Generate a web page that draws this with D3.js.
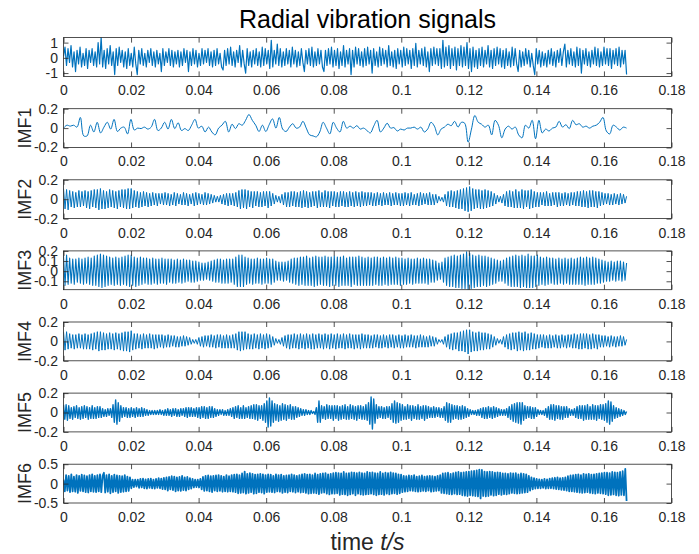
<!DOCTYPE html>
<html>
<head>
<meta charset="utf-8">
<script src="https://cdn.jsdelivr.net/npm/d3@7"></script>
<style>
  html, body { margin: 0; padding: 0; background: #fff; }
  svg { display: block; font-family: "Liberation Sans", Arial, Helvetica, sans-serif; }
</style>
</head>
<body>
<svg id="chart" width="699" height="554"></svg>
<script>
// Record length in seconds; samples of every series are evenly spaced over it.
const duration = 0.1667;

const xTicks = [0, 0.02, 0.04, 0.06, 0.08, 0.1, 0.12, 0.14, 0.16, 0.18];
const yTicksRaw = [-1, 0, 1];
const yTicksImf = [-0.2, 0, 0.2];
const yTicksImf3 = [-0.1, 0, 0.1, 0.2];
const yTicksImf6 = [-0.5, 0, 0.5];

// Measured radial vibration signal
const rawSignal = [
  0.1,0.7,-0.5,0.6,-0.3,0.8,-0.6,0.4,-0.9,0.5,-0.4,0.7,-0.6,0.3,-0.5,0.6,-0.7,0.5,-0.3,0.6,-0.5,0.4,-0.6,1.0,-0.4,
  1.35,-0.6,0.5,-0.7,0.6,-0.4,0.8,-0.5,0.4,-1.1,0.6,-0.5,0.7,-0.3,0.5,-0.6,0.4,-0.7,0.6,-0.5,0.3,-0.6,0.7,-0.4,-1.1,
  0.5,-0.4,0.6,-0.5,0.3,-0.6,0.5,-0.3,0.6,-0.5,0.4,-0.6,0.5,-0.4,0.3,-0.9,0.6,-0.5,0.4,-0.3,0.6,-0.5,0.5,-0.6,0.4,
  -0.4,0.5,-0.6,0.4,-0.5,0.6,-0.3,0.5,-0.9,0.4,-0.5,0.6,-0.4,0.5,-0.6,0.3,-0.5,0.6,-0.4,0.5,-0.3,0.6,-0.5,0.4,-0.6,
  0.5,-0.5,0.6,-0.4,0.3,-0.6,-0.8,0.5,-0.5,0.6,-0.4,0.7,-0.5,0.4,-0.6,0.5,-0.3,0.8,-0.6,0.5,-0.4,-1.0,0.6,-0.5,0.4,
  -0.6,0.5,-0.4,0.6,-0.5,0.4,-0.6,0.7,-0.5,0.6,-0.4,0.5,-0.7,1.15,-0.6,0.5,-0.4,0.9,-0.5,0.6,-0.6,0.4,-0.5,0.6,-0.4,
  0.5,-0.6,0.7,-0.4,0.5,-0.6,0.4,-0.5,0.6,-0.3,-0.9,0.5,-0.4,0.6,-0.5,0.7,-0.6,0.4,-0.5,0.6,-0.4,0.5,-0.6,-0.9,0.5,
  -0.5,0.6,-0.4,0.7,-0.6,0.5,-0.5,0.6,-0.7,0.4,-0.5,0.8,-0.6,0.5,-0.4,0.6,-1.1,0.5,-0.6,0.7,-0.4,0.6,-0.5,0.4,-0.6,
  0.6,-0.5,0.7,-0.4,0.5,-1.0,0.6,-0.5,0.4,-0.6,0.7,-0.5,0.6,-0.4,0.5,-0.6,0.8,-0.5,0.4,-0.6,0.5,-0.7,0.6,-0.4,0.5,
  -0.6,0.7,-0.5,0.6,-0.4,0.5,-0.7,0.6,-0.5,0.95,-0.6,0.5,-0.4,0.6,-0.5,0.7,-0.6,0.4,-0.9,0.6,-0.5,0.7,-0.4,0.6,-0.5,
  0.6,-0.7,1.15,-0.6,0.7,-0.5,0.8,-0.7,0.6,-0.5,0.7,-0.8,0.6,-0.5,0.8,-0.6,0.7,-0.5,1.0,-0.7,0.6,-0.9,0.7,-0.6,0.5,
  -0.7,0.6,-0.5,0.7,-0.6,0.5,-0.4,0.8,-0.6,0.5,-0.7,0.6,-0.5,0.7,-0.4,0.6,-0.6,0.5,-0.7,0.6,-0.5,0.4,-0.6,0.7,-0.5,
  0.6,-0.4,-0.9,0.5,-0.6,0.4,-0.5,0.6,-0.4,0.5,-0.6,0.3,-0.5,-1.1,0.6,-0.4,0.5,-0.6,0.4,-0.5,0.3,-0.6,0.5,-0.4,0.6,
  -0.5,0.4,-0.6,0.5,-0.3,0.6,-0.5,0.4,0.9,-0.6,0.5,-0.4,0.6,-0.5,0.4,-0.6,0.7,-0.5,0.6,-1.0,0.5,-0.4,0.6,-0.5,0.4,
  -0.6,0.5,-0.4,0.7,-0.5,0.6,-0.6,0.4,-0.5,0.7,-0.4,0.6,-0.5,0.6,-0.7,0.5,-0.4,0.6,-0.5,0.7,-0.6,0.5,-0.4,0.5,-1.1
];

// Intrinsic mode functions
const imf1 = [
  0.00,0.03,0.02,0.03,0.01,0.11,-0.08,-0.08,0.03,-0.04,
  0.06,-0.05,0.01,0.06,-0.01,0.09,-0.035,0.0,0.01,-0.06,
  0.09,-0.02,0.0,-0.005,0.01,-0.01,0.01,0.09,-0.025,0.0,
  0.06,-0.01,0.09,-0.005,0.055,-0.025,-0.005,-0.025,0.03,0.09,
  0.0,0.02,-0.04,0.01,-0.04,-0.07,0.0,0.03,0.07,-0.04,
  0.04,-0.005,0.045,0.03,0.08,0.14,0.08,0.03,-0.035,0.03,
  -0.035,0.035,0.095,0.0,0.11,-0.01,-0.035,0.01,0.045,0.0,
  0.01,0.07,0.0,-0.07,-0.08,-0.09,-0.04,0.06,0.0,-0.06,
  0.06,0.0,-0.04,0.07,0.0,0.02,0.0,0.025,-0.01,0.0,
  -0.025,-0.05,0.02,0.08,-0.04,0.0,0.05,0.0,0.005,-0.03,
  -0.01,-0.02,0.0,0.0,0.01,-0.01,0.01,-0.04,-0.01,0.06,
  0.02,-0.07,-0.01,0.01,0.04,0.025,0.07,0.01,0.06,0.05,
  -0.145,-0.01,0.13,0.06,0.04,0.01,0.03,-0.07,0.08,0.03,
  -0.1,-0.01,0.02,-0.01,0.01,-0.07,-0.1,0.03,0.0,0.08,
  -0.11,0.08,-0.05,-0.01,-0.03,0.0,0.01,0.07,0.01,0.035,
  -0.005,0.08,0.035,0.045,0.01,0.02,0.0,0.02,0.03,0.06,
  0.11,-0.03,-0.06,0.03,0.01,-0.02,0.01,0.0
];

const imf2 = [
  0.11,-0.1,0.1,-0.11,0.09,-0.08,0.08,-0.09,0.07,-0.08,0.09,-0.08,0.08,-0.07,0.09,-0.09,0.08,-0.1,0.09,-0.08,0.1,-0.09,
  0.1,-0.11,0.11,-0.1,0.09,-0.1,0.08,-0.09,0.1,-0.08,0.09,-0.09,0.08,-0.1,0.09,-0.08,0.1,-0.09,0.1,-0.1,0.11,-0.1,
  0.11,-0.09,0.09,-0.08,0.08,-0.09,0.07,-0.08,0.08,-0.07,0.07,-0.08,0.06,-0.07,0.07,-0.06,0.06,-0.07,0.06,-0.05,0.06,-0.06,
  0.07,-0.06,0.06,-0.07,0.05,-0.06,0.07,-0.07,0.06,-0.05,0.05,-0.06,0.07,-0.06,0.06,-0.07,0.05,-0.05,0.06,-0.07,0.07,-0.06,
  0.06,-0.05,0.05,-0.06,0.07,-0.06,0.06,-0.05,0.05,-0.04,0.04,-0.03,0.03,-0.03,0.04,-0.05,0.05,-0.06,0.06,-0.07,0.06,-0.06,
  0.06,-0.07,0.07,-0.08,0.09,-0.1,0.1,-0.09,0.1,-0.1,0.09,-0.08,0.08,-0.09,0.08,-0.07,0.08,-0.08,0.07,-0.08,0.08,-0.07,
  0.08,-0.09,0.08,-0.07,0.06,-0.05,0.04,-0.03,0.03,-0.04,0.05,-0.06,0.07,-0.08,0.07,-0.08,0.08,-0.07,0.08,-0.08,0.07,-0.08,
  0.08,-0.09,0.09,-0.08,0.08,-0.09,0.07,-0.08,0.08,-0.07,0.08,-0.09,0.09,-0.08,0.07,-0.08,0.09,-0.08,0.08,-0.09,0.08,-0.07,
  0.08,-0.08,0.07,-0.08,0.08,-0.07,0.08,-0.08,0.07,-0.08,0.08,-0.07,0.07,-0.08,0.08,-0.07,0.07,-0.08,0.08,-0.07,0.07,-0.07,
  0.07,-0.06,0.07,-0.07,0.06,-0.07,0.07,-0.06,0.06,-0.07,0.07,-0.06,0.06,-0.06,0.07,-0.07,0.06,-0.06,0.07,-0.06,0.06,-0.07,
  0.06,-0.07,0.07,-0.06,0.06,-0.07,0.07,-0.06,0.05,-0.06,0.06,-0.07,0.07,-0.06,0.06,-0.05,0.06,-0.06,0.07,-0.06,0.05,-0.06,
  0.05,-0.04,0.03,-0.02,0.02,-0.03,0.05,-0.07,0.08,-0.08,0.09,-0.08,0.08,-0.09,0.09,-0.1,0.1,-0.1,0.11,-0.12,0.12,-0.13,
  0.13,-0.12,0.11,-0.1,0.1,-0.09,0.1,-0.1,0.09,-0.1,0.1,-0.09,0.09,-0.08,0.08,-0.07,0.06,-0.05,0.04,-0.03,0.03,-0.04,
  0.05,-0.07,0.08,-0.08,0.09,-0.08,0.08,-0.09,0.1,-0.09,0.08,-0.09,0.1,-0.1,0.09,-0.08,0.09,-0.1,0.1,-0.09,0.08,-0.08,
  0.07,-0.08,0.07,-0.06,0.07,-0.07,0.08,-0.07,0.06,-0.07,0.07,-0.06,0.07,-0.08,0.07,-0.07,0.06,-0.07,0.07,-0.06,0.06,-0.07,
  0.07,-0.06,0.07,-0.07,0.08,-0.07,0.08,-0.08,0.09,-0.08,0.08,-0.09,0.09,-0.08,0.09,-0.08,0.08,-0.09,0.08,-0.07,0.07,-0.06,
  0.06,-0.05,0.06,-0.06,0.05,-0.06,0.06,-0.05,0.05,-0.06,0.06,-0.05,0.05,-0.04,0.03
];

const imf3 = [
  0.15,-0.14,0.16,-0.13,0.13,-0.12,0.12,-0.13,0.12,-0.11,0.13,-0.12,0.12,-0.13,0.13,-0.12,0.14,-0.13,0.13,-0.14,0.15,-0.14,
  0.16,-0.15,0.17,-0.16,0.16,-0.15,0.15,-0.14,0.14,-0.13,0.13,-0.14,0.14,-0.13,0.13,-0.14,0.14,-0.13,0.15,-0.14,0.16,-0.15,
  0.16,-0.14,0.14,-0.15,0.13,-0.14,0.14,-0.13,0.13,-0.12,0.13,-0.13,0.12,-0.13,0.13,-0.12,0.12,-0.13,0.12,-0.12,0.13,-0.12,
  0.12,-0.13,0.12,-0.11,0.12,-0.12,0.11,-0.12,0.12,-0.11,0.11,-0.12,0.12,-0.11,0.11,-0.1,0.11,-0.11,0.1,-0.11,0.1,-0.1,
  0.09,-0.09,0.08,-0.09,0.08,-0.08,0.09,-0.09,0.1,-0.1,0.11,-0.11,0.12,-0.11,0.12,-0.12,0.11,-0.12,0.12,-0.12,0.12,-0.11,
  0.12,-0.13,0.14,-0.15,0.16,-0.15,0.16,-0.15,0.14,-0.13,0.13,-0.12,0.12,-0.13,0.12,-0.12,0.13,-0.12,0.12,-0.13,0.12,-0.12,
  0.13,-0.12,0.12,-0.13,0.12,-0.11,0.1,-0.09,0.09,-0.09,0.09,-0.1,0.09,-0.09,0.1,-0.11,0.12,-0.12,0.13,-0.13,0.13,-0.14,
  0.14,-0.13,0.14,-0.14,0.15,-0.14,0.13,-0.14,0.14,-0.15,0.15,-0.14,0.14,-0.13,0.14,-0.14,0.15,-0.14,0.14,-0.15,0.14,-0.14,
  0.15,-0.14,0.14,-0.15,0.14,-0.14,0.15,-0.14,0.13,-0.14,0.14,-0.15,0.14,-0.13,0.14,-0.14,0.15,-0.14,0.14,-0.14,0.13,-0.14,
  0.14,-0.14,0.13,-0.14,0.14,-0.13,0.14,-0.14,0.13,-0.14,0.14,-0.13,0.13,-0.14,0.14,-0.13,0.13,-0.13,0.14,-0.13,0.13,-0.14,
  0.13,-0.13,0.12,-0.13,0.13,-0.12,0.12,-0.13,0.12,-0.12,0.13,-0.12,0.12,-0.12,0.13,-0.12,0.12,-0.13,0.12,-0.11,0.11,-0.11,
  0.1,-0.09,0.08,-0.08,0.09,-0.11,0.13,-0.14,0.14,-0.15,0.15,-0.15,0.16,-0.16,0.15,-0.16,0.16,-0.17,0.17,-0.17,0.19,-0.18,
  0.18,-0.17,0.16,-0.16,0.15,-0.15,0.16,-0.15,0.15,-0.14,0.15,-0.15,0.14,-0.14,0.13,-0.13,0.12,-0.12,0.11,-0.1,0.1,-0.1,
  0.11,-0.12,0.13,-0.14,0.14,-0.15,0.15,-0.15,0.16,-0.15,0.15,-0.16,0.16,-0.15,0.15,-0.16,0.17,-0.16,0.15,-0.16,0.15,-0.15,
  0.16,-0.14,0.14,-0.13,0.13,-0.14,0.14,-0.13,0.13,-0.12,0.13,-0.13,0.12,-0.13,0.13,-0.12,0.12,-0.13,0.13,-0.12,0.12,-0.13,
  0.13,-0.13,0.12,-0.13,0.13,-0.13,0.14,-0.13,0.13,-0.14,0.14,-0.13,0.13,-0.13,0.14,-0.13,0.13,-0.12,0.12,-0.12,0.11,-0.11,
  0.1,-0.1,0.09,-0.1,0.1,-0.09,0.09,-0.1,0.1,-0.09,0.1,-0.1,0.09,-0.09,0.08
];

const imf4 = [
  0.1,-0.09,0.1,-0.08,0.08,-0.07,0.07,-0.08,0.07,-0.07,0.08,-0.07,0.07,-0.08,0.08,-0.08,0.07,-0.08,0.08,-0.09,0.09,-0.08,
  0.1,-0.1,0.1,-0.09,0.09,-0.09,0.08,-0.08,0.09,-0.08,0.08,-0.09,0.09,-0.08,0.08,-0.09,0.09,-0.1,0.1,-0.1,0.1,-0.11,
  0.11,-0.09,0.08,-0.08,0.08,-0.07,0.07,-0.08,0.08,-0.07,0.07,-0.07,0.08,-0.07,0.07,-0.08,0.07,-0.07,0.07,-0.06,0.07,-0.07,
  0.06,-0.06,0.07,-0.06,0.06,-0.05,0.06,-0.06,0.05,-0.06,0.05,-0.05,0.06,-0.05,0.05,-0.04,0.04,-0.03,0.02,-0.02,0.02,-0.03,
  0.04,-0.05,0.05,-0.06,0.06,-0.05,0.06,-0.06,0.07,-0.06,0.06,-0.07,0.07,-0.06,0.07,-0.07,0.06,-0.07,0.07,-0.07,0.06,-0.07,
  0.07,-0.07,0.08,-0.09,0.1,-0.1,0.1,-0.09,0.1,-0.08,0.08,-0.08,0.07,-0.08,0.08,-0.07,0.07,-0.08,0.08,-0.07,0.07,-0.08,
  0.08,-0.07,0.07,-0.06,0.05,-0.04,0.03,-0.02,0.02,-0.03,0.04,-0.05,0.06,-0.07,0.07,-0.08,0.07,-0.07,0.08,-0.07,0.07,-0.08,
  0.08,-0.07,0.07,-0.08,0.08,-0.07,0.07,-0.08,0.08,-0.08,0.07,-0.07,0.08,-0.07,0.07,-0.08,0.08,-0.07,0.07,-0.08,0.08,-0.07,
  0.07,-0.08,0.08,-0.07,0.07,-0.07,0.08,-0.08,0.07,-0.07,0.08,-0.07,0.07,-0.08,0.07,-0.07,0.07,-0.08,0.08,-0.07,0.07,-0.07,
  0.07,-0.07,0.06,-0.07,0.07,-0.06,0.07,-0.07,0.06,-0.07,0.07,-0.06,0.06,-0.07,0.07,-0.06,0.07,-0.07,0.06,-0.06,0.07,-0.07,
  0.06,-0.07,0.07,-0.06,0.06,-0.06,0.07,-0.06,0.06,-0.07,0.06,-0.06,0.07,-0.06,0.06,-0.06,0.05,-0.06,0.06,-0.05,0.05,-0.05,
  0.04,-0.03,0.02,-0.01,0.02,-0.03,0.05,-0.06,0.07,-0.08,0.08,-0.09,0.09,-0.08,0.09,-0.1,0.1,-0.1,0.11,-0.11,0.12,-0.13,
  0.12,-0.11,0.1,-0.1,0.09,-0.1,0.1,-0.09,0.09,-0.09,0.09,-0.08,0.08,-0.08,0.07,-0.06,0.05,-0.04,0.03,-0.02,0.02,-0.03,
  0.05,-0.06,0.07,-0.08,0.08,-0.09,0.09,-0.08,0.09,-0.1,0.1,-0.09,0.09,-0.1,0.1,-0.09,0.08,-0.09,0.09,-0.08,0.08,-0.08,
  0.07,-0.07,0.07,-0.06,0.07,-0.07,0.06,-0.07,0.07,-0.07,0.06,-0.06,0.07,-0.07,0.06,-0.07,0.07,-0.06,0.06,-0.07,0.07,-0.06,
  0.07,-0.07,0.08,-0.07,0.07,-0.08,0.08,-0.08,0.08,-0.07,0.08,-0.08,0.07,-0.08,0.08,-0.07,0.07,-0.08,0.07,-0.06,0.06,-0.06,
  0.06,-0.05,0.05,-0.06,0.06,-0.05,0.05,-0.06,0.05,-0.05,0.06,-0.05,0.05,-0.04,0.02
];

const imf5 = [
  0.08,-0.07,0.08,-0.08,0.07,-0.06,0.05,-0.07,0.06,-0.05,0.07,-0.06,0.05,-0.07,0.06,-0.06,0.07,-0.05,0.06,-0.07,0.05,-0.06,0.07,-0.06,0.05,-0.06,
  0.06,-0.05,0.06,-0.05,0.04,-0.04,0.03,-0.04,0.04,-0.03,0.04,-0.05,0.08,-0.1,0.13,-0.12,0.1,-0.09,0.07,-0.05,0.05,-0.04,0.05,-0.05,0.04,-0.05,
  0.05,-0.04,0.04,-0.05,0.05,-0.04,0.04,-0.04,0.05,-0.04,0.04,-0.03,0.03,-0.03,0.02,-0.02,0.02,-0.02,0.02,-0.02,0.02,-0.02,0.03,-0.02,0.02,-0.03,
  0.03,-0.03,0.04,-0.03,0.03,-0.04,0.04,-0.03,0.04,-0.04,0.03,-0.04,0.04,-0.03,0.04,-0.04,0.05,-0.05,0.05,-0.04,0.05,-0.04,0.04,-0.04,0.05,-0.05,
  0.05,-0.06,0.06,-0.05,0.06,-0.06,0.05,-0.06,0.06,-0.05,0.06,-0.05,0.04,-0.04,0.03,-0.03,0.03,-0.02,0.03,-0.03,0.02,-0.03,0.03,-0.03,0.04,-0.04,
  0.05,-0.06,0.06,-0.05,0.07,-0.06,0.05,-0.06,0.07,-0.06,0.05,-0.05,0.06,-0.06,0.07,-0.06,0.08,-0.07,0.08,-0.08,0.07,-0.06,0.07,-0.08,0.09,-0.1,
  0.12,-0.15,0.15,-0.14,0.12,-0.1,0.09,-0.08,0.08,-0.09,0.07,-0.08,0.09,-0.07,0.08,-0.08,0.07,-0.06,0.08,-0.07,0.06,-0.07,0.06,-0.05,0.05,-0.04,
  0.04,-0.03,0.03,-0.03,0.03,-0.02,0.02,-0.02,0.02,-0.01,0.01,-0.02,0.05,-0.1,0.12,-0.1,0.07,-0.06,0.06,-0.07,0.08,-0.06,0.07,-0.06,0.07,-0.08,
  0.07,-0.06,0.07,-0.08,0.06,-0.07,0.07,-0.06,0.08,-0.07,0.06,-0.07,0.08,-0.06,0.07,-0.07,0.06,-0.08,0.07,-0.06,0.07,-0.07,0.06,-0.07,0.08,-0.08,
  0.1,-0.12,0.16,-0.17,0.14,-0.11,0.08,-0.06,0.06,-0.05,0.06,-0.06,0.05,-0.06,0.06,-0.05,0.06,-0.07,0.09,-0.1,0.12,-0.11,0.1,-0.1,0.09,-0.08,
  0.08,-0.07,0.06,-0.07,0.08,-0.06,0.07,-0.08,0.07,-0.06,0.06,-0.07,0.08,-0.07,0.06,-0.06,0.07,-0.08,0.07,-0.06,0.06,-0.05,0.05,-0.05,0.06,-0.05,
  0.05,-0.04,0.05,-0.05,0.04,-0.05,0.06,-0.08,0.1,-0.1,0.09,-0.1,0.08,-0.07,0.07,-0.06,0.07,-0.07,0.06,-0.07,0.07,-0.06,0.06,-0.05,0.04,-0.04,
  0.03,-0.02,0.02,-0.02,0.02,-0.03,0.03,-0.03,0.04,-0.05,0.05,-0.06,0.05,-0.06,0.06,-0.05,0.05,-0.06,0.06,-0.05,0.05,-0.04,0.04,-0.03,0.03,-0.03,
  0.03,-0.03,0.04,-0.05,0.06,-0.07,0.08,-0.09,0.09,-0.1,0.1,-0.11,0.1,-0.12,0.1,-0.08,0.07,-0.06,0.06,-0.05,0.06,-0.06,0.05,-0.06,0.05,-0.04,
  0.03,-0.02,0.02,-0.02,0.02,-0.03,0.04,-0.05,0.06,-0.07,0.08,-0.07,0.08,-0.08,0.07,-0.06,0.07,-0.07,0.06,-0.07,0.06,-0.05,0.06,-0.05,0.04,-0.03,
  0.03,-0.03,0.04,-0.05,0.06,-0.06,0.07,-0.06,0.07,-0.08,0.07,-0.07,0.08,-0.07,0.06,-0.07,0.08,-0.07,0.07,-0.08,0.07,-0.06,0.08,-0.07,0.08,-0.08,
  0.09,-0.1,0.12,-0.12,0.11,-0.09,0.07,-0.06,0.05,-0.05,0.04,-0.04,0.03,-0.03,0.02,-0.02,0.01
];

const imf6 = [
  0.1,-0.2,0.22,-0.18,0.2,-0.22,0.24,-0.2,0.18,-0.21,0.22,-0.24,0.2,-0.19,0.23,-0.2,0.21,-0.22,0.19,-0.23,0.22,-0.2,0.24,-0.21,0.2,-0.22,
  0.22,-0.2,0.24,-0.22,0.2,0.28,-0.23,0.22,-0.21,0.24,-0.25,0.2,-0.22,0.23,-0.2,0.21,-0.24,0.2,-0.22,0.19,-0.21,0.22,-0.2,0.18,-0.19,0.16,
  -0.12,0.1,-0.09,0.1,-0.08,0.1,-0.11,0.12,-0.1,0.13,-0.12,0.11,-0.13,0.12,-0.11,0.13,-0.12,0.1,-0.13,0.12,-0.11,0.14,-0.12,0.13,-0.14,0.15,
  -0.15,0.16,-0.18,0.17,-0.15,0.19,-0.17,0.18,-0.2,0.16,-0.18,0.17,-0.19,0.2,-0.17,0.16,-0.18,0.17,-0.15,0.14,-0.13,0.12,-0.1,0.1,-0.09,0.1,
  -0.1,0.12,-0.15,0.17,-0.19,0.2,-0.18,0.21,-0.2,0.19,-0.22,0.2,-0.18,0.21,-0.2,0.22,-0.19,0.2,-0.21,0.18,-0.2,0.22,-0.21,0.19,-0.2,0.22,
  -0.21,0.23,-0.22,0.24,-0.25,0.22,-0.24,0.26,-0.23,0.31,-0.26,0.25,-0.24,0.27,-0.22,0.25,-0.26,0.23,-0.25,0.24,-0.22,0.25,-0.23,0.24,-0.26,0.22,
  -0.22,0.24,-0.21,0.23,-0.22,0.2,-0.23,0.24,-0.2,0.22,-0.21,0.23,-0.24,0.2,-0.22,0.21,-0.23,0.22,-0.2,0.24,-0.21,0.22,-0.23,0.2,-0.21,0.22,
  -0.23,0.24,-0.22,0.25,-0.24,0.23,-0.26,0.24,-0.25,0.22,-0.24,0.26,-0.25,0.23,-0.27,0.25,-0.24,0.26,-0.23,0.27,-0.26,0.24,-0.28,0.25,-0.26,0.27,
  -0.26,0.28,-0.25,0.27,-0.29,0.26,-0.27,0.3,-0.28,0.26,-0.3,0.27,-0.28,0.29,-0.26,0.28,-0.3,0.27,-0.26,0.29,-0.28,0.27,-0.29,0.26,-0.28,0.3,
  -0.27,0.28,-0.26,0.29,-0.28,0.27,-0.3,0.26,-0.28,0.3,-0.27,0.26,-0.29,0.28,-0.26,0.27,-0.28,0.29,-0.26,0.27,-0.25,0.26,-0.27,0.24,-0.25,0.23,
  -0.22,0.2,-0.21,0.19,-0.2,0.21,-0.18,0.2,-0.19,0.22,-0.2,0.18,-0.21,0.19,-0.2,0.21,-0.19,0.18,-0.2,0.19,-0.18,0.2,-0.21,0.19,-0.2,0.18,
  -0.19,0.2,-0.18,0.22,-0.24,0.26,-0.25,0.27,-0.26,0.28,-0.27,0.25,-0.28,0.27,-0.26,0.29,-0.28,0.3,-0.27,0.28,-0.3,0.29,-0.31,0.3,-0.32,0.31,
  -0.3,0.32,-0.31,0.33,-0.32,0.34,-0.33,0.36,-0.38,0.35,-0.32,0.31,-0.33,0.3,-0.32,0.31,-0.29,0.3,-0.31,0.28,-0.3,0.29,-0.27,0.28,-0.29,0.26,
  -0.27,0.26,-0.28,0.25,-0.26,0.27,-0.24,0.26,-0.25,0.27,-0.26,0.24,-0.25,0.26,-0.24,0.25,-0.23,0.24,-0.22,0.2,-0.18,0.16,-0.15,0.14,-0.13,0.12,
  -0.12,0.11,-0.12,0.1,-0.11,0.12,-0.13,0.11,-0.12,0.13,-0.12,0.14,-0.13,0.15,-0.14,0.16,-0.15,0.14,-0.16,0.15,-0.17,0.16,-0.18,0.19,-0.2,0.21,
  -0.2,0.22,-0.21,0.23,-0.22,0.24,-0.23,0.22,-0.24,0.25,-0.23,0.24,-0.22,0.25,-0.24,0.23,-0.25,0.24,-0.26,0.25,-0.24,0.26,-0.25,0.27,-0.26,0.28,
  -0.27,0.28,-0.3,0.27,-0.29,0.3,-0.28,0.29,-0.3,0.28,-0.31,0.3,-0.29,0.32,-0.3,0.38,-0.45
];

// Subplot stack, top to bottom; the densest traces get a heavier pen
const panels = [
  { label: "",     values: rawSignal, domain: [-1.22, 1.33],  ticks: yTicksRaw,  curve: d3.curveLinear,     width: 1.2 },
  { label: "IMF1", values: imf1,      domain: [-0.2, 0.2],    ticks: yTicksImf,  curve: d3.curveCatmullRom, width: 1 },
  { label: "IMF2", values: imf2,      domain: [-0.2, 0.2],    ticks: yTicksImf,  curve: d3.curveLinear,     width: 1 },
  { label: "IMF3", values: imf3,      domain: [-0.183, 0.2],  ticks: yTicksImf3, curve: d3.curveLinear,     width: 1.1 },
  { label: "IMF4", values: imf4,      domain: [-0.2, 0.2],    ticks: yTicksImf,  curve: d3.curveLinear,     width: 1 },
  { label: "IMF5", values: imf5,      domain: [-0.2, 0.2],    ticks: yTicksImf,  curve: d3.curveLinear,     width: 1.4 },
  { label: "IMF6", values: imf6,      domain: [-0.5, 0.5],    ticks: yTicksImf6, curve: d3.curveLinear,     width: 1.8 }
];

const svg = d3.select("#chart");
const ink = "#262626";
const lineColor = "#0072BD";
const plotLeft = 63.5, plotRight = 671.5;
const firstTop = 37.6, rowStep = 71.1, plotHeight = 38.8;
const tickLen = 5;

const x = d3.scaleLinear().domain([0, 0.18]).range([plotLeft, plotRight]);

function styleAxis(g) {
  g.select(".domain").remove();
  g.selectAll(".tick line").attr("stroke", ink).attr("stroke-width", 0.8);
  g.selectAll(".tick text")
    .attr("fill", ink)
    .style("font-size", "14px")
    .style("font-family", "'Liberation Sans', Arial, Helvetica, sans-serif");
}

const defs = svg.append("defs");

panels.forEach((p, i) => {
  const top = firstTop + rowStep * i;
  const bottom = top + plotHeight;
  const y = d3.scaleLinear().domain(p.domain).range([bottom, top]);

  defs.append("clipPath").attr("id", "plot-clip-" + i)
    .append("rect")
    .attr("x", plotLeft).attr("y", top)
    .attr("width", plotRight - plotLeft).attr("height", plotHeight);

  const n = p.values.length;
  const line = d3.line()
    .x((d, k) => x(k / (n - 1) * duration))
    .y(d => y(d))
    .curve(p.curve);

  svg.append("path")
    .datum(p.values)
    .attr("clip-path", `url(#plot-clip-${i})`)
    .attr("fill", "none")
    .attr("stroke", lineColor)
    .attr("stroke-width", p.width)
    .attr("stroke-linejoin", "round")
    .attr("d", line);

  // Inward ticks on all four sides, labels on bottom and left
  svg.append("g")
    .attr("transform", `translate(0,${bottom})`)
    .call(d3.axisBottom(x).tickValues(xTicks).tickSize(-tickLen).tickPadding(9).tickFormat(d => String(d)))
    .call(styleAxis);

  svg.append("g")
    .attr("transform", `translate(0,${top})`)
    .call(d3.axisTop(x).tickValues(xTicks).tickSize(-tickLen).tickFormat(""))
    .call(styleAxis);

  svg.append("g")
    .attr("transform", `translate(${plotLeft},0)`)
    .call(d3.axisLeft(y).tickValues(p.ticks).tickSize(-tickLen).tickPadding(5.5).tickFormat(d => String(d)))
    .call(styleAxis);

  svg.append("g")
    .attr("transform", `translate(${plotRight},0)`)
    .call(d3.axisRight(y).tickValues(p.ticks).tickSize(-tickLen).tickFormat(""))
    .call(styleAxis);

  svg.append("rect")
    .attr("x", plotLeft).attr("y", top)
    .attr("width", plotRight - plotLeft).attr("height", plotHeight)
    .attr("fill", "none")
    .attr("stroke", ink)
    .attr("stroke-width", 0.8);

  if (p.label) {
    svg.append("text")
      .attr("transform", `translate(31,${(top + bottom) / 2}) rotate(-90)`)
      .attr("text-anchor", "middle")
      .attr("fill", ink)
      .style("font-size", "18px")
      .text(p.label);
  }
});

svg.append("text")
  .attr("x", 367.5).attr("y", 27.5)
  .attr("text-anchor", "middle")
  .attr("fill", "#000")
  .style("font-size", "25px")
  .text("Radial vibration signals");

const xLabel = svg.append("text")
  .attr("x", 367.5).attr("y", 550)
  .attr("text-anchor", "middle")
  .attr("fill", ink)
  .style("font-size", "23px");
xLabel.append("tspan").text("time ");
xLabel.append("tspan").style("font-style", "italic").text("t/s");
</script>
</body>
</html>
